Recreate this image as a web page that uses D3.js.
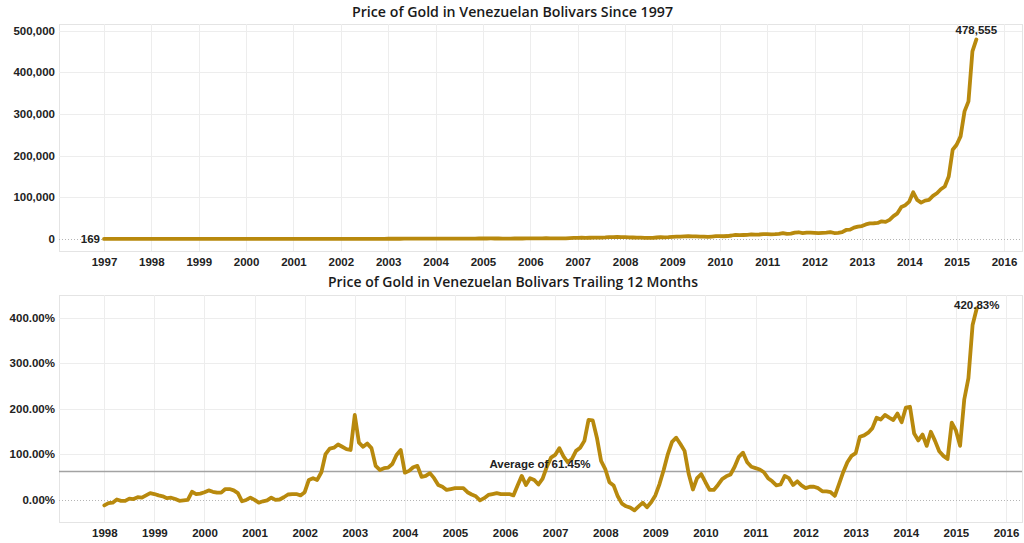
<!DOCTYPE html>
<html>
<head>
<meta charset="utf-8">
<script src="https://cdn.jsdelivr.net/npm/d3@7"></script>
<style>
  html, body { margin: 0; padding: 0; background: #fff; }
  svg { display: block; }
</style>
</head>
<body>
<svg id="chart" width="1024" height="543"></svg>
<script>
// ---------------- DATA ----------------
const topTitle = "Price of Gold in Venezuelan Bolivars Since 1997";
const bottomTitle = "Price of Gold in Venezuelan Bolivars Trailing 12 Months";
const priceStartYear = 1997;   // monthly series, first value = Jan 1997
const changeStartYear = 1998;  // monthly series, first value = Jan 1998

const priceValues = [
  169,168,170,167,170,166,164,164,163,161,153,147,
  147,155,158,167,165,161,167,166,171,167,167,168,
  165,169,169,172,172,163,162,163,169,195,187,190,
  191,203,198,198,198,200,199,196,193,187,185,198,
  189,189,190,194,206,198,199,206,214,209,207,216,
  219,270,279,277,330,396,422,439,473,451,437,451,
  626,608,603,618,703,689,696,742,804,803,865,943,
  995,991,1031,1075,1055,1047,1100,1091,1061,1028,1047,1160,
  1244,1239,1289,1247,1171,1120,1078,1124,1167,1151,1194,1299,
  1393,1388,1405,1634,1780,1478,1585,1607,1552,1680,2054,2494,
  2758,2956,2740,2974,3364,3059,3392,3680,4268,4603,4848,4614,
  4606,4079,3589,3182,3061,2600,2781,2797,3628,4281,4024,4337,
  5021,5466,5922,6364,6948,6136,6174,5790,5660,5223,5915,6766,
  6929,6614,7166,8400,10075,9265,9570,9959,10980,10603,10765,11638,
  11710,10979,11466,12348,14105,12137,12728,15138,16141,13996,15071,15246,
  14638,14053,14676,15435,16644,14322,14764,16349,21629,22394,27429,29882,
  31000,35000,37500,37800,38500,42500,41000,46000,55000,61500,77000,81000,
  89700,112000,93800,87300,92000,93800,103400,109800,119400,125800,149800,214000,
  226000,246000,306000,330000,450000,478555
];

const changeValues = [
  -13,-8,-7,0,-3,-3,2,1,5,4,9,14,
  12,9,7,3,4,1,-3,-2,-1,17,12,13,
  16,20,17,15,15,23,23,20,14,-4,-1,4,
  -1,-7,-4,-2,4,-1,0,5,11,12,12,9,
  16,43,47,43,60,100,112,114,121,116,111,109,
  186,125,116,123,113,74,65,69,70,78,98,109,
  59,63,71,74,50,52,58,47,32,28,21,23,
  25,25,25,16,11,7,-2,3,10,12,14,12,
  12,12,9,31,52,32,47,43,33,46,72,92,
  98,113,95,82,89,107,114,129,175,174,136,85,
  67,38,31,7,-9,-15,-18,-24,-15,-7,-17,-6,
  9,34,65,100,127,136,122,107,56,22,47,56,
  38,21,21,32,45,51,55,72,94,103,82,72,
  69,66,60,47,40,31,33,52,47,32,40,31,
  25,28,28,25,18,18,16,8,34,60,82,96,
  102,138,141,147,157,180,176,186,180,175,189,170,
  202,204,145,130,143,118,149,129,106,96,89,169,
  152,118,220,267,384,420.83
];
const changeAverage = 61.45;

const topYearTicks = [1997,1998,1999,2000,2001,2002,2003,2004,2005,2006,2007,2008,2009,2010,2011,2012,2013,2014,2015,2016];
const topValueTicks = [0,100000,200000,300000,400000,500000];
const bottomYearTicks = [1998,1999,2000,2001,2002,2003,2004,2005,2006,2007,2008,2009,2010,2011,2012,2013,2014,2015,2016];
const bottomValueTicks = [0,100,200,300,400];

// ---------------- STYLE / LAYOUT ----------------
const gold = "#b8890d";
const gridColor = "#ededed";
const textColor = "#222";
const tickFont = "'Liberation Sans', Arial, sans-serif";
const titleFont = "'Open Sans', 'DejaVu Sans', sans-serif";

const svg = d3.select("#chart");
const panelLeft = 59, panelRight = 1022;

const priceData = priceValues.map((v, i) => ({ t: priceStartYear + i / 12, v }));
const changeData = changeValues.map((v, i) => ({ t: changeStartYear + i / 12, v }));

function drawPanel(cfg) {
  const g = svg.append("g");
  const { x, y, top, bottom } = cfg;

  // panel border
  g.append("rect")
    .attr("x", panelLeft + 0.5).attr("y", top + 0.5)
    .attr("width", panelRight - panelLeft).attr("height", bottom - top)
    .attr("fill", "none").attr("stroke", "#e4e4e4").attr("stroke-width", 1);

  // vertical gridlines
  g.append("g").selectAll("line").data(cfg.xTicks).join("line")
    .attr("x1", d => Math.round(x(d)) + 0.5).attr("x2", d => Math.round(x(d)) + 0.5)
    .attr("y1", top).attr("y2", bottom)
    .attr("stroke", gridColor).attr("stroke-width", 1);

  // horizontal gridlines (non zero)
  g.append("g").selectAll("line").data(cfg.yTicks.filter(d => d !== 0)).join("line")
    .attr("x1", panelLeft).attr("x2", panelRight)
    .attr("y1", d => Math.round(y(d)) + 0.5).attr("y2", d => Math.round(y(d)) + 0.5)
    .attr("stroke", gridColor).attr("stroke-width", 1);

  // zero line dotted
  g.append("line")
    .attr("x1", panelLeft).attr("x2", panelRight)
    .attr("y1", Math.round(y(0)) + 0.5).attr("y2", Math.round(y(0)) + 0.5)
    .attr("stroke", "#b5b5b5").attr("stroke-width", 1)
    .attr("stroke-dasharray", "1,2");

  // axes
  const xAxis = g.append("g")
    .attr("transform", `translate(0,${bottom})`)
    .call(d3.axisBottom(x).tickValues(cfg.xTicks).tickFormat(d3.format("d")).tickSize(0).tickPadding(6.5));
  const yAxis = g.append("g")
    .attr("transform", `translate(${panelLeft},0)`)
    .call(d3.axisLeft(y).tickValues(cfg.yTicks).tickFormat(cfg.yFormat).tickSize(0).tickPadding(4));
  [xAxis, yAxis].forEach(a => {
    a.select(".domain").remove();
    a.selectAll("text")
      .attr("fill", textColor)
      .style("font-family", tickFont)
      .style("font-weight", "bold")
      .style("font-size", "11.5px");
  });

  return g;
}

// ---------------- TOP CHART ----------------
const top1 = 24, bottom1 = 251;
const x1 = d3.scaleLinear().domain([1997, 2016]).range([104, 1004]);
const y1 = d3.scaleLinear().domain([0, 500000]).range([239, 30.5]);

const g1 = drawPanel({
  x: x1, y: y1, top: top1, bottom: bottom1,
  xTicks: topYearTicks, yTicks: topValueTicks,
  yFormat: d3.format(",")
});

g1.append("path")
  .datum(priceData)
  .attr("fill", "none")
  .attr("stroke", gold)
  .attr("stroke-width", 3.8)
  .attr("stroke-linejoin", "round")
  .attr("stroke-linecap", "round")
  .attr("d", d3.line().x(d => x1(d.t)).y(d => y1(d.v)));

const firstP = priceData[0], lastP = priceData[priceData.length - 1];
g1.append("text")
  .attr("x", x1(firstP.t) - 4).attr("y", y1(firstP.v) + 4)
  .attr("text-anchor", "end")
  .attr("fill", textColor)
  .style("font-family", tickFont).style("font-weight", "bold").style("font-size", "11.5px")
  .text(d3.format(",")(firstP.v));
g1.append("text")
  .attr("x", x1(lastP.t)).attr("y", y1(lastP.v) - 5)
  .attr("text-anchor", "middle")
  .attr("fill", textColor)
  .style("font-family", tickFont).style("font-weight", "bold").style("font-size", "11.5px")
  .text(d3.format(",")(lastP.v));

svg.append("text")
  .attr("x", 512.5).attr("y", 16.5)
  .attr("text-anchor", "middle")
  .attr("fill", "#1a1a1a")
  .attr("textLength", 321).attr("lengthAdjust", "spacingAndGlyphs")
  .style("font-family", titleFont).style("font-weight", 600).style("font-size", "14px")
  .text(topTitle);

// ---------------- BOTTOM CHART ----------------
const top2 = 295, bottom2 = 522;
const x2 = d3.scaleLinear().domain([1998, 2016]).range([104.3, 1006]);
const y2 = d3.scaleLinear().domain([0, 400]).range([499.5, 317.7]);

const g2 = drawPanel({
  x: x2, y: y2, top: top2, bottom: bottom2,
  xTicks: bottomYearTicks, yTicks: bottomValueTicks,
  yFormat: d => d3.format(".2f")(d) + "%"
});

// average line
g2.append("line")
  .attr("x1", panelLeft).attr("x2", panelRight)
  .attr("y1", y2(changeAverage)).attr("y2", y2(changeAverage))
  .attr("stroke", "#a3a3a3").attr("stroke-width", 1.6);

g2.append("path")
  .datum(changeData)
  .attr("fill", "none")
  .attr("stroke", gold)
  .attr("stroke-width", 3.8)
  .attr("stroke-linejoin", "round")
  .attr("stroke-linecap", "round")
  .attr("d", d3.line().x(d => x2(d.t)).y(d => y2(d.v)));

g2.append("text")
  .attr("x", 540).attr("y", y2(changeAverage) - 4)
  .attr("text-anchor", "middle")
  .attr("fill", textColor)
  .style("font-family", tickFont).style("font-weight", "bold").style("font-size", "11.5px")
  .text("Average of " + d3.format(".2f")(changeAverage) + "%");

const lastC = changeData[changeData.length - 1];
g2.append("text")
  .attr("x", x2(lastC.t)).attr("y", y2(lastC.v) + 0.5)
  .attr("text-anchor", "middle")
  .attr("fill", textColor)
  .style("font-family", tickFont).style("font-weight", "bold").style("font-size", "11.5px")
  .text(d3.format(".2f")(lastC.v) + "%");

svg.append("text")
  .attr("x", 513).attr("y", 287)
  .attr("text-anchor", "middle")
  .attr("fill", "#1a1a1a")
  .attr("textLength", 370).attr("lengthAdjust", "spacingAndGlyphs")
  .style("font-family", titleFont).style("font-weight", 600).style("font-size", "14px")
  .text(bottomTitle);
</script>
</body>
</html>
